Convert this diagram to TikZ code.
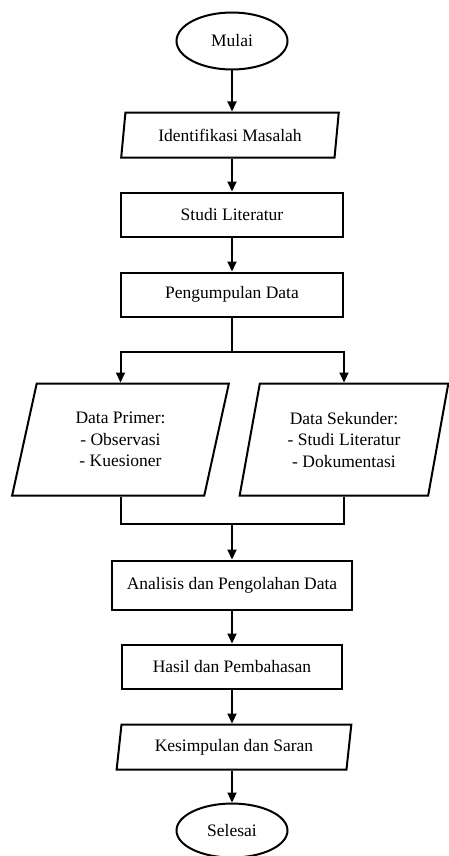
\documentclass[tikz,border=0pt]{standalone}
\usepackage{fontspec}
\setmainfont{Liberation Serif}
\usepackage{tikz}
\usetikzlibrary{arrows.meta,positioning,shapes.geometric}

\begin{document}
\begin{tikzpicture}[
  x=1pt,y=1pt,
  font=\fontsize{17.5}{21.5}\selectfont,
  term/.style={draw,ellipse,line width=2pt,fill=white,inner sep=0pt,
               minimum width=111pt,minimum height=57pt},
  pbox/.style={draw,rectangle,line width=2pt,fill=white,
               minimum width=222pt,minimum height=44pt},
  iobox/.style={draw,trapezium,trapezium left angle=81,trapezium right angle=99,
                trapezium stretches=true,line width=2pt,fill=white,
                minimum width=218pt,minimum height=45pt},
  arr/.style={-{Triangle[length=10pt,width=9pt]},line width=2pt},
  ln/.style={line width=2pt}
]
  \useasboundingbox (0,0) rectangle (449,-856);

  % main chain
  \node[term] (mulai) at (232,-41) {Mulai};
  \node[iobox,below=41pt of mulai,xshift=-2pt] (idm) {Identifikasi Masalah};
  \node[pbox,below=33pt of idm,xshift=2pt] (studi) {Studi Literatur};
  \node[pbox,below=34pt of studi] (kumpul) {Pengumpulan Data};

  % the two data sources
  \node[iobox,below=65pt of kumpul,xshift=-111.5pt,
        trapezium left angle=77,trapezium right angle=103,
        minimum width=217pt,minimum height=112pt,align=center] (primer)
    {Data Primer:\\- Observasi\\- Kuesioner};
  \node[iobox,below=65pt of kumpul,xshift=112pt,
        trapezium left angle=77,trapezium right angle=103,
        minimum width=209pt,minimum height=112pt,align=center] (sekunder)
    {Data Sekunder:\\- Studi Literatur\\- Dokumentasi};

  \coordinate[below=34pt of kumpul] (cabang);
  \coordinate[below=27pt of primer.south -| kumpul.south] (gabung);

  \node[pbox,below=36pt of gabung,minimum width=240pt,minimum height=49pt] (olah)
    {Analisis dan Pengolahan Data};
  \node[pbox,below=33pt of olah,minimum width=220pt] (hasil) {Hasil dan Pembahasan};
  \node[iobox,below=34pt of hasil,minimum width=235pt,xshift=2pt] (simpul)
    {Kesimpulan dan Saran};
  \node[term,below=32pt of simpul,xshift=-2pt,minimum height=54pt] (selesai) {Selesai};

  % connectors
  \draw[arr] (mulai) -- (mulai |- idm.north);
  \draw[arr] (idm.south -| studi.north) -- (studi);
  \draw[arr] (studi) -- (kumpul);
  \draw[ln] (kumpul) -- (cabang);
  \draw[arr] (cabang) -| (primer.north);
  \draw[arr] (cabang) -| (sekunder.north);
  \draw[ln] (primer.south) |- (gabung);
  \draw[ln] (sekunder.south) |- (gabung);
  \draw[arr] (gabung) -- (olah);
  \draw[arr] (olah) -- (hasil);
  \draw[arr] (hasil) -- (hasil |- simpul.north);
  \draw[arr] (simpul.south -| selesai.north) -- (selesai);
\end{tikzpicture}
\end{document}
